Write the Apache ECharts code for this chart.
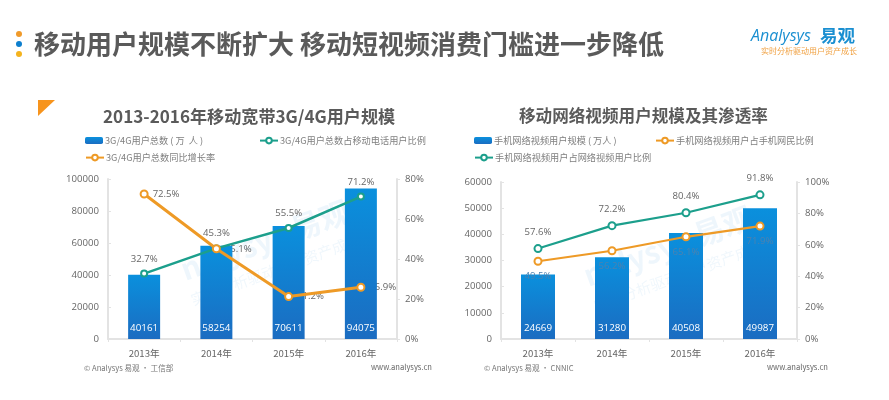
<!DOCTYPE html>
<html><head><meta charset="utf-8">
<style>html,body{margin:0;padding:0;background:#fff}#c{width:889px;height:400px}</style>
<script src="https://cdn.jsdelivr.net/npm/echarts@6/dist/echarts.min.js"></script>
</head><body><div id="c"></div>
<script>
const years = ['2013年','2014年','2015年','2016年'];
const users3g4g = [40161,58254,70611,94075];
const shareOfMobile = [32.7,45.3,55.5,71.2];
const yoyGrowth = [72.5,45.1,21.2,25.9];
const videoUsers = [24669,31280,40508,49987];
const shareOfNetizens = [49.5,56.2,65.1,71.9];
const shareOfVideoUsers = [57.6,72.2,80.4,91.8];
const mainTitle = '移动用户规模不断扩大 移动短视频消费门槛进一步降低';
const title1 = '2013-2016年移动宽带3G/4G用户规模';
const title2 = '移动网络视频用户规模及其渗透率';
const names1 = ['3G/4G用户总数 ( 万  人 )','3G/4G用户总数占移动电话用户比例','3G/4G用户总数同比增长率'];
const names2 = ['手机网络视频用户规模 ( 万人 )','手机网络视频用户占手机网民比例','手机网络视频用户占网络视频用户比例'];

const FF = '"Open Sans","Noto Sans CJK SC",sans-serif';
const CJK = '"Noto Sans CJK SC","Open Sans",sans-serif';
const TEAL = '#1c9f8c', ORANGE = '#ee9a26', GREY = '#666';
const barFill = {type:'linear',x:0,y:0,x2:0,y2:1,colorStops:[{offset:0,color:'#0a90dd'},{offset:1,color:'#1b6cc1'}]};
const axLine = {show:true,lineStyle:{color:'#e3e3e3',width:2}};
const axTick = {show:true,length:3,lineStyle:{color:'#e3e3e3'}};
const axLab = {color:GREY,fontSize:9.6,fontFamily:FF};

function axes(gi,max,int,rmax,rint){
  return {
    x:{type:'category',gridIndex:gi,data:years,axisLine:axLine,axisTick:axTick,
       axisLabel:{...axLab,fontFamily:CJK,margin:10}},
    y:[{type:'value',gridIndex:gi,min:0,max,interval:int,splitLine:{show:false},axisLine:axLine,
        axisTick:{...axTick,inside:true},axisLabel:{...axLab,margin:9,formatter:v=>String(v)}},
       {type:'value',gridIndex:gi,min:0,max:rmax,interval:rint,splitLine:{show:false},axisLine:axLine,
        axisTick:axTick,axisLabel:{...axLab,margin:8,formatter:'{value}%'}}]
  };
}
function bar(name,data,gi,w){
  return {name,type:'bar',xAxisIndex:gi,yAxisIndex:gi*2,data,barWidth:w,z:3,
    itemStyle:{color:barFill},
    label:{show:true,position:'insideBottom',distance:6,color:'#fff',fontSize:9.8,fontFamily:FF,formatter:p=>String(p.value)}};
}
function line(name,data,gi,color,w,size,labelOpt){
  return {name,type:'line',xAxisIndex:gi,yAxisIndex:gi*2+1,data,z:5,symbol:'circle',symbolSize:size,
    showSymbol:true,lineStyle:{color,width:w},
    itemStyle:{color:'#fff',borderColor:color,borderWidth:2},
    label:labelOpt?{show:true,formatter:'{c}%',color:GREY,fontSize:9.6,fontFamily:FF,...labelOpt}:{show:false}};
}
function labelSeries(name,data,gi,z){
  return {name,type:'line',xAxisIndex:gi,yAxisIndex:gi*2+1,data,z,symbol:'circle',symbolSize:1,showSymbol:true,
    lineStyle:{width:0,color:'rgba(0,0,0,0)'},itemStyle:{color:'rgba(0,0,0,0)'},
    label:{show:true,position:'right',distance:8,formatter:'{c}%',color:GREY,fontSize:9.6,fontFamily:FF}};
}
function legendItem(name,left,top){
  return {data:[name],left,top,itemWidth:18,itemHeight:7,itemGap:0,padding:0,
    selectedMode:false,textStyle:{color:'#808080',fontSize:9.2,fontFamily:CJK,padding:[0,0,0,-3]}};
}
const a1 = axes(0,100000,20000,80,20), a2 = axes(1,60000,10000,100,20);

function txt(text,x,y,size,color,extra){
  return {type:'text',x,y,silent:true,z:20,style:{text,fill:color,fontSize:size,fontFamily:CJK,textVerticalAlign:'middle',...(extra||{})}};
}
const mark = (x,y,s)=>({type:'group',x,y,rotation:20*Math.PI/180,z:30,silent:true,children:[
  {type:'text',style:{text:'nalysys 易观',fill:'rgba(60,150,215,0.085)',fontSize:s,fontWeight:'bold',fontFamily:CJK,textAlign:'center',textVerticalAlign:'middle'}},
  {type:'text',x:0,y:s*1.05,style:{text:'实时分析驱动用户资产成长',fill:'rgba(60,150,215,0.075)',fontSize:s*0.5,fontFamily:CJK,textAlign:'center',textVerticalAlign:'middle'}}
]});

const chart = echarts.init(document.getElementById('c'),null,{renderer:'canvas'});
chart.setOption({
  animation:false,
  backgroundColor:'#fff',
  grid:[{left:108,right:492,top:179,bottom:61},{left:501,right:92,top:182,bottom:61}],
  xAxis:[a1.x,a2.x],
  yAxis:[...a1.y,...a2.y],
  legend:[
    legendItem(names1[0],85,136),legendItem(names1[1],259,136),legendItem(names1[2],85,153),
    legendItem(names2[0],474,136),legendItem(names2[1],655,136),legendItem(names2[2],474,153)
  ],
  series:[
    labelSeries('growthLabels',yoyGrowth,0,1),
    bar(names1[0],users3g4g,0,32),
    line(names1[1],shareOfMobile,0,TEAL,2.5,6,{position:'top',distance:6}),
    line(names1[2],yoyGrowth,0,ORANGE,3,7,false),
    bar(names2[0],videoUsers,1,34),
    line(names2[2],shareOfVideoUsers,1,TEAL,2.2,7,{position:'top',distance:7}),
    line(names2[1],shareOfNetizens,1,ORANGE,2.2,7,{position:'bottom',distance:6,color:'#4c82b0'})
  ],
  graphic:[
    {type:'circle',shape:{cx:19,cy:34,r:3},style:{fill:'#f09a2a'},silent:true},
    {type:'circle',shape:{cx:19,cy:44,r:3},style:{fill:'#0d7fce'},silent:true},
    {type:'circle',shape:{cx:19,cy:54,r:3},style:{fill:'#f4b31e'},silent:true},
    {type:'polygon',shape:{points:[[38,100],[55,100],[38,116]]},style:{fill:'#f7941d'},silent:true},
    txt(mainTitle,34,44,26,'#5a5a5a',{fontWeight:'bold'}),
    txt(title1,103,116,17.1,'#5a5a5a',{fontWeight:'bold'}),
    txt(title2,519,116,16.6,'#5a5a5a',{fontWeight:'bold'}),
    txt('© Analysys 易观 · 工信部',84,368,7.6,'#777'),
    txt('© Analysys 易观 · CNNIC',484,368,7.6,'#777'),
    txt('www.analysys.cn',371,367,7.6,'#666'),
    txt('www.analysys.cn',767,367,7.6,'#666'),
    txt('Analysys',751,36,16,'#1a8fd1',{fontStyle:'italic',fontFamily:'"Open Sans",sans-serif'}),
    txt('易观',820,35,17.5,'#1a8fd1',{fontWeight:'bold'}),
    txt('实时分析驱动用户资产成长',761,51,8,'#f0a040'),
    mark(265,240,30),
    mark(668,246,30)
  ]
});
</script></body></html>
